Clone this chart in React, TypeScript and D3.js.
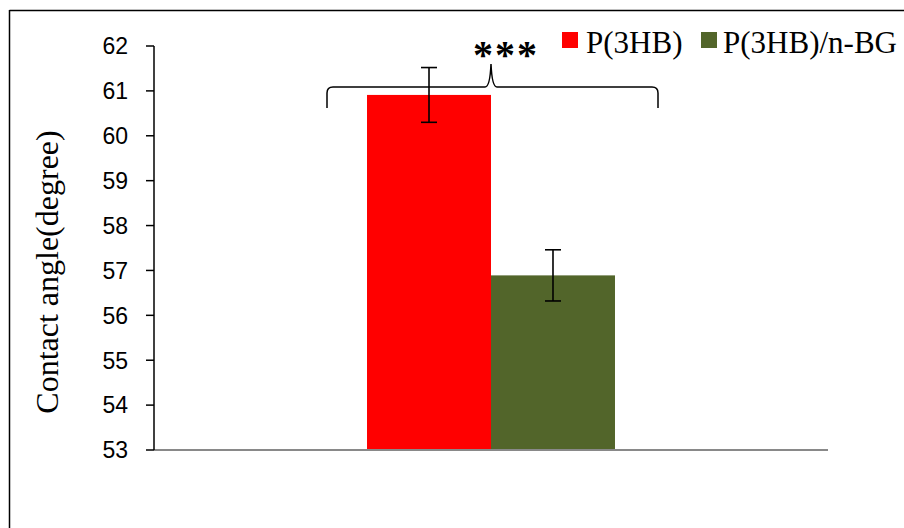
import React from "react";
import * as d3 from "d3";

const categories = ["Sample"];
const seriesNames = ["P(3HB)", "P(3HB)/n-BG"];
const seriesColors = ["#ff0000", "#52652a"];
const means = [60.91, 56.89];
const errors = [0.61, 0.57];
const yTicks = [53, 54, 55, 56, 57, 58, 59, 60, 61, 62];
const yTitle = "Contact angle(degree)";
const significance = "***";

const W = 904;
const H = 528;
const plot = { left: 154, right: 828, top: 46, bottom: 450 };

export default function App() {
  const y = d3.scaleLinear().domain([53, 62]).range([plot.bottom, plot.top]);
  const x0 = d3
    .scaleBand<string>()
    .domain(categories)
    .range([plot.left, plot.right])
    .paddingInner(0)
    .paddingOuter(0.859);
  const x1 = d3
    .scaleBand<string>()
    .domain(seriesNames)
    .range([0, x0.bandwidth()])
    .padding(0);

  const cat = categories[0];
  const cx = (x0(cat) ?? 0) + x0.bandwidth() / 2;

  // brace geometry
  const bl = cx - 164;
  const br = cx + 167;
  const by = 87;
  const bEnd = 108;
  const bPeak = 64;
  const r = 6;
  const bracePath = [
    `M${bl},${bEnd}`,
    `L${bl},${by + r}`,
    `Q${bl},${by} ${bl + r},${by}`,
    `L${cx - 6},${by}`,
    `Q${cx - 1},${by} ${cx},${bPeak}`,
    `Q${cx + 1},${by} ${cx + 6},${by}`,
    `L${br - r},${by}`,
    `Q${br},${by} ${br},${by + r}`,
    `L${br},${bEnd}`,
  ].join(" ");

  return (
    <svg width={W} height={H} style={{ display: "block", position: "absolute", left: 0, top: 0, background: "#fff" }}>
      {/* frame lines */}
      <line x1={9.5} x2={W} y1={10.5} y2={10.5} stroke="#000" strokeWidth={1.5} />
      <line x1={9.5} x2={9.5} y1={10} y2={H} stroke="#000" strokeWidth={1.5} />

      {/* bars */}
      {seriesNames.map((s, i) => {
        const bx = (x0(cat) ?? 0) + (x1(s) ?? 0);
        return (
          <rect
            key={s}
            x={bx}
            y={y(means[i])}
            width={x1.bandwidth()}
            height={y(53) - y(means[i])}
            fill={seriesColors[i]}
          />
        );
      })}

      {/* error bars */}
      {seriesNames.map((s, i) => {
        const ex = (x0(cat) ?? 0) + (x1(s) ?? 0) + x1.bandwidth() / 2;
        const yt = y(means[i] + errors[i]);
        const yb = y(means[i] - errors[i]);
        return (
          <g key={s} stroke="#000" strokeWidth={1.6}>
            <line x1={ex} x2={ex} y1={yt} y2={yb} />
            <line x1={ex - 8} x2={ex + 8} y1={yt} y2={yt} />
            <line x1={ex - 8} x2={ex + 8} y1={yb} y2={yb} />
          </g>
        );
      })}

      {/* x axis */}
      <line x1={plot.left} x2={plot.right} y1={plot.bottom} y2={plot.bottom} stroke="#898989" strokeWidth={2} />

      {/* y axis */}
      <line x1={plot.left} x2={plot.left} y1={plot.top} y2={plot.bottom} stroke="#000" strokeWidth={1.5} />
      {yTicks.map((t) => (
        <g key={t}>
          <line x1={plot.left - 8} x2={plot.left} y1={y(t)} y2={y(t)} stroke="#000" strokeWidth={1.5} />
          <text
            x={128}
            y={y(t)}
            dy="0.36em"
            textAnchor="end"
            fontFamily="'Liberation Sans', Arial, sans-serif"
            fontSize={23}
            fill="#000"
          >
            {t}
          </text>
        </g>
      ))}

      {/* y title */}
      <text
        transform={`translate(58,${272}) rotate(-90)`}
        textAnchor="middle"
        fontFamily="'Liberation Serif', 'Times New Roman', serif"
        fontSize={32}
        fill="#000"
      >
        {yTitle}
      </text>

      {/* brace and significance */}
      <path d={bracePath} fill="none" stroke="#000" strokeWidth={1.5} />
      <text
        x={cx + 15}
        y={68}
        textAnchor="middle"
        fontFamily="'Liberation Serif', 'Times New Roman', serif"
        fontWeight="bold"
        fontSize={40}
        letterSpacing={2}
        fill="#000"
      >
        {significance}
      </text>

      {/* legend */}
      <rect x={562} y={32} width={16} height={16} fill={seriesColors[0]} />
      <text x={586} y={53} fontFamily="'Liberation Serif', 'Times New Roman', serif" fontSize={31} fill="#000">
        {seriesNames[0]}
      </text>
      <rect x={701} y={32} width={16} height={16} fill={seriesColors[1]} />
      <text x={723} y={53} fontFamily="'Liberation Serif', 'Times New Roman', serif" fontSize={31} fill="#000">
        {seriesNames[1]}
      </text>
    </svg>
  );
}
